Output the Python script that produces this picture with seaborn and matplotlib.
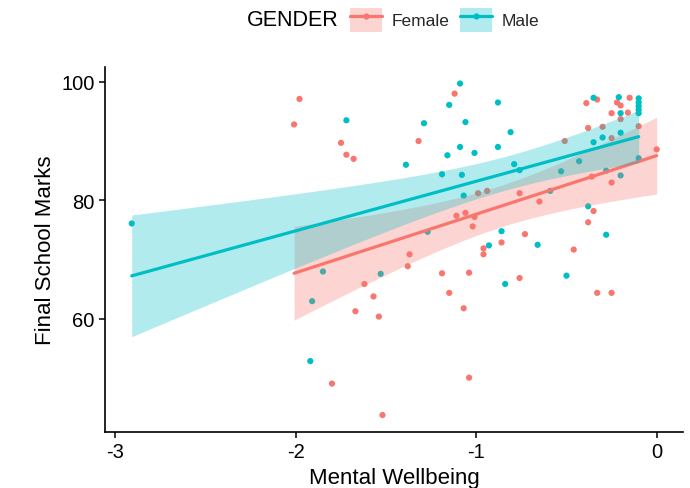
import numpy as np
import pandas as pd
import seaborn as sns
import matplotlib
matplotlib.use("Agg")
import matplotlib.pyplot as plt
from matplotlib.patches import Patch
from matplotlib.lines import Line2D
from matplotlib.legend_handler import HandlerTuple

# ---- data ----
female_x = [-1.98, -2.01, -1.75, -1.72, -1.68, -1.62, -1.57, -1.67, -1.54, -1.80,
            -1.52, -1.12, -1.32, -0.99, -0.94, -0.76, -0.51, -0.65, -0.36, -0.25,
            0.00, -0.35, -0.38, -0.46, -0.73, -0.86, -0.96, -0.96, -1.01, -1.02,
            -1.06, -1.11, -1.37, -0.39, -0.33, -0.15, -0.22, -0.20, -0.25, -0.16,
            -0.20, -0.38, -0.30, -0.10, -0.25, -1.38, -1.19, -1.04, -0.76, -1.15,
            -0.33, -0.25, -1.07, -1.04]
female_y = [97.1, 92.8, 89.7, 87.7, 87.0, 65.9, 63.8, 61.3, 60.4, 49.1,
            43.8, 98.0, 90.0, 81.2, 81.6, 81.2, 90.0, 79.8, 84.0, 83.0,
            88.6, 78.2, 76.3, 71.7, 74.3, 72.9, 71.9, 70.9, 77.2, 75.6,
            77.9, 77.4, 70.9, 96.4, 97.0, 97.3, 96.5, 96.0, 94.7, 94.8,
            93.7, 92.2, 92.4, 92.5, 90.5, 68.9, 67.7, 67.8, 66.9, 64.4,
            64.4, 64.4, 61.8, 50.1]

male_x = [-1.72, -2.91, -1.85, -1.53, -1.91, -1.92, -1.09, -1.15, -0.88, -1.29,
          -1.06, -0.81, -1.09, -1.16, -1.01, -0.88, -1.39, -0.79, -0.76, -1.19,
          -1.08, -1.07, -0.53, -0.43, -0.59, -0.28, -0.20, -0.10, -0.38, -0.28,
          -0.66, -0.86, -0.93, -1.27, -0.35, -0.21, -0.20, -0.10, -0.10, -0.10,
          -0.10, -0.10, -0.35, -0.30, -0.20, -0.84, -0.50]
male_y = [93.5, 76.1, 68.0, 67.6, 63.0, 52.9, 99.7, 96.1, 96.5, 93.0,
          93.2, 91.5, 89.0, 87.6, 88.0, 89.0, 86.0, 86.1, 85.1, 84.4,
          84.3, 80.8, 84.9, 86.6, 81.6, 85.0, 84.2, 87.1, 79.0, 74.2,
          72.5, 74.8, 72.4, 74.7, 97.3, 97.4, 94.7, 97.2, 96.5, 95.9,
          95.3, 94.7, 89.8, 90.6, 91.4, 65.9, 67.3]

genders = ["Female", "Male"]
colors = {"Female": "#F8766D", "Male": "#00BFC4"}

df = pd.DataFrame({
    "Mental Wellbeing": female_x + male_x,
    "Final School Marks": female_y + male_y,
    "GENDER": ["Female"] * len(female_x) + ["Male"] * len(male_x),
})


def t975(dof):
    z = 1.959964
    return (z + (z**3 + z) / (4 * dof)
            + (5 * z**5 + 16 * z**3 + 3 * z) / (96 * dof**2))


sns.set_theme(style="white")
plt.rcParams["font.family"] = ["Liberation Sans", "DejaVu Sans"]

fig = plt.figure(figsize=(6.9, 4.89), dpi=100)
ax = fig.add_axes([0.1522, 0.1153, 0.9899 - 0.1522, 0.8611 - 0.1153])

sns.scatterplot(data=df, x="Mental Wellbeing", y="Final School Marks",
                hue="GENDER", palette=colors, s=20, linewidth=0,
                legend=False, ax=ax, zorder=1)

z = 1.1
for g in genders:
    sub = df[df["GENDER"] == g]
    x = sub["Mental Wellbeing"].to_numpy()
    y = sub["Final School Marks"].to_numpy()
    n = len(x)
    b1, b0 = np.polyfit(x, y, 1)
    resid = y - (b0 + b1 * x)
    s = np.sqrt(np.sum(resid**2) / (n - 2))
    grid = np.linspace(x.min(), x.max(), 100)
    fit = b0 + b1 * grid
    se = s * np.sqrt(1 / n + (grid - x.mean())**2 / np.sum((x - x.mean())**2))
    tq = t975(n - 2)
    ax.fill_between(grid, fit - tq * se, fit + tq * se, color=colors[g],
                    alpha=0.3, linewidth=0, zorder=z)
    n_lines = len(ax.lines)
    sns.regplot(data=sub, x="Mental Wellbeing", y="Final School Marks",
                scatter=False, color=colors[g], ci=None, truncate=True,
                line_kws=dict(lw=2.3), ax=ax)
    for ln in ax.lines[n_lines:]:
        ln.set_zorder(z + 0.05)
    z += 0.1

ax.set_xlim(-3.058, 0.146)
ax.set_ylim(41.0, 102.5)
ax.set_xticks([-3, -2, -1, 0])
ax.set_xticklabels(["-3", "-2", "-1", "0"])
ax.set_yticks([60, 80, 100])
ax.set_xlabel("Mental Wellbeing", fontsize=16, color="black")
ax.set_ylabel("Final School Marks", fontsize=16, color="black")
ax.tick_params(axis="both", which="both", direction="out", length=4, width=1.1,
               colors="black", labelsize=14.5, bottom=True, left=True)
for sp in ["top", "right"]:
    ax.spines[sp].set_visible(False)
for sp in ["left", "bottom"]:
    ax.spines[sp].set_color("black")
    ax.spines[sp].set_linewidth(1.2)
ax.grid(False)

# legend at the top
handles = []
for g in genders:
    handles.append((Patch(facecolor=colors[g], alpha=0.3, edgecolor="none"),
                    Line2D([], [], color=colors[g], lw=2.3, marker="o",
                           markersize=4.5, markeredgewidth=0)))
fig.text(0.358, 0.958, "GENDER", fontsize=15.5, ha="left", va="center",
         color="black")
leg = fig.legend(handles, genders,
                 handler_map={tuple: HandlerTuple(ndivide=1, pad=0)},
                 loc="center left", bbox_to_anchor=(0.507, 0.958), ncol=2,
                 frameon=False, fontsize=12.5, handlelength=1.85, handleheight=1.75,
                 handletextpad=0.55, columnspacing=0.6, borderpad=0, borderaxespad=0)

fig.savefig("out.png", dpi=100)
